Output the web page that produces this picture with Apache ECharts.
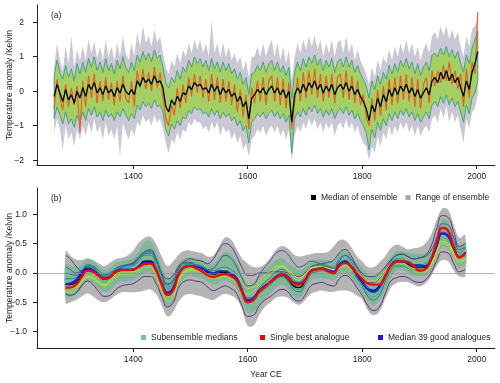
<!DOCTYPE html>
<html>
<head>
<meta charset="utf-8">
<script src="https://cdn.jsdelivr.net/npm/echarts@6/dist/echarts.min.js"></script>
<style>
html, body { margin: 0; padding: 0; background: #fff; }
#chart { width: 500px; height: 383px; }
</style>
</head>
<body>
<div id="chart"></div>
<script>
// ---- panel (a): annual reconstruction, sampled every 5 years ----
var yearsA = [
  1262,1267,1272,1277,1282,1287,1292,1297,1302,1307,
  1312,1317,1322,1327,1332,1337,1342,1347,1352,1357,
  1362,1367,1372,1377,1382,1387,1392,1397,1402,1407,
  1412,1417,1422,1427,1432,1437,1442,1447,1452,1457,
  1462,1467,1472,1477,1482,1487,1492,1497,1502,1507,
  1512,1517,1522,1527,1532,1537,1542,1547,1552,1557,
  1562,1567,1572,1577,1582,1587,1592,1597,1602,1607,
  1612,1617,1622,1627,1632,1637,1642,1647,1652,1657,
  1662,1667,1672,1677,1682,1687,1692,1697,1702,1707,
  1712,1717,1722,1727,1732,1737,1742,1747,1752,1757,
  1762,1767,1772,1777,1782,1787,1792,1797,1802,1807,
  1812,1817,1822,1827,1832,1837,1842,1847,1852,1857,
  1862,1867,1872,1877,1882,1887,1892,1897,1902,1907,
  1912,1917,1922,1927,1932,1937,1942,1947,1952,1957,
  1962,1967,1972,1977,1982,1987,1992,1997,2002
];
var medianA = [
  -0.15,0.20,-0.05,-0.30,0.05,-0.25,-0.10,-0.35,0.00,-0.20,
  0.10,-0.15,0.20,0.05,0.25,-0.05,0.10,-0.10,0.15,-0.05,
  0.05,-0.15,0.10,-0.05,0.20,0.00,-0.10,0.05,-0.10,0.30,
  0.15,0.40,0.25,0.35,0.20,0.45,0.25,0.30,0.10,-0.45,
  -0.60,-0.25,-0.40,-0.15,-0.30,-0.05,-0.10,0.15,0.05,0.25,
  0.15,0.20,0.05,0.10,-0.05,0.20,0.00,0.15,-0.10,0.10,
  -0.05,0.05,-0.15,-0.05,-0.30,-0.15,-0.45,-0.30,-0.80,-0.20,
  -0.10,0.05,-0.05,0.10,-0.10,0.05,0.15,-0.05,0.10,-0.10,
  0.05,-0.20,0.00,-0.90,-0.10,0.10,-0.05,0.20,0.00,0.25,
  0.10,0.30,0.05,0.20,-0.05,0.15,0.00,0.20,-0.10,0.10,
  0.20,0.05,0.25,0.00,0.15,-0.10,0.05,-0.15,-0.30,-0.50,
  -0.85,-0.40,-0.60,-0.20,-0.45,-0.10,-0.30,0.05,-0.15,0.10,
  -0.10,0.15,0.00,0.20,-0.05,0.10,-0.15,0.05,-0.20,-0.05,
  0.10,-0.10,0.30,0.40,0.25,0.55,0.35,0.60,0.30,0.50,
  0.25,0.40,0.10,-0.15,0.30,0.05,0.55,0.80,1.15
];
var bestA = [
  -0.50,0.35,-0.20,-0.55,0.20,-0.45,0.10,-0.40,0.15,-1.20,
  0.30,-0.45,0.45,-0.20,0.50,-0.35,0.30,-0.30,0.40,-0.25,
  0.25,-0.40,0.30,-0.30,0.45,-0.20,-0.35,0.30,-0.45,0.60,
  0.10,0.65,0.05,0.55,0.00,0.70,0.10,0.55,-0.20,-0.80,
  -1.00,-0.40,-0.70,0.10,-0.50,0.20,-0.35,0.40,-0.15,0.50,
  -0.05,0.45,-0.20,0.35,-0.30,0.50,-0.25,0.40,-0.35,0.35,
  -0.30,0.30,-0.40,0.20,-0.60,0.05,-0.75,-0.10,-1.10,0.10,
  -0.35,0.30,-0.30,0.40,-0.40,0.30,0.45,-0.30,0.40,-0.40,
  0.35,-0.50,0.25,-1.10,-0.35,0.40,-0.30,0.55,-0.20,0.60,
  -0.10,0.65,-0.20,0.50,-0.30,0.45,-0.20,0.50,-0.35,0.40,
  0.50,-0.20,0.60,-0.25,0.45,-0.35,0.30,-0.40,-0.10,-0.75,
  -1.00,-0.20,-0.85,0.05,-0.70,0.15,-0.55,0.35,-0.40,0.40,
  -0.35,0.45,-0.25,0.50,-0.30,0.40,-0.45,0.35,-0.50,0.20,
  0.40,-0.35,0.60,0.15,0.60,0.25,0.75,0.30,0.85,0.20,
  0.60,0.05,0.50,-0.45,0.65,-0.20,0.85,0.50,2.30
];
var membersHiA = [
  0.45,0.90,0.55,0.35,0.75,0.40,0.65,0.30,0.80,0.50,
  0.85,0.55,0.95,0.70,1.00,0.60,0.85,0.55,0.95,0.60,
  0.80,0.50,0.90,0.65,1.00,0.70,0.55,0.85,0.60,1.05,
  0.85,1.15,0.90,1.10,0.85,1.20,0.95,1.05,0.70,0.25,
  0.10,0.40,0.25,0.60,0.35,0.70,0.55,0.90,0.70,1.00,
  0.80,0.95,0.70,0.90,0.60,0.95,0.65,0.85,0.55,0.85,
  0.60,0.80,0.50,0.65,0.35,0.55,0.20,0.40,-0.10,0.50,
  0.55,0.75,0.60,0.85,0.55,0.80,0.90,0.60,0.85,0.55,
  0.75,0.45,0.70,-0.20,0.55,0.85,0.60,0.95,0.70,1.00,
  0.80,1.05,0.75,0.95,0.60,0.90,0.70,0.95,0.55,0.85,
  0.95,0.70,1.00,0.70,0.90,0.55,0.75,0.50,0.35,0.15,
  -0.20,0.30,0.05,0.45,0.20,0.55,0.35,0.75,0.50,0.80,
  0.55,0.90,0.70,0.95,0.65,0.85,0.50,0.80,0.45,0.70,
  0.85,0.60,1.05,1.10,1.00,1.25,1.05,1.30,1.00,1.20,
  0.95,1.15,0.80,0.55,1.05,0.80,1.25,1.50,1.75
];
var membersLoA = [
  -0.80,-0.45,-0.70,-0.95,-0.60,-0.95,-0.80,-1.05,-0.70,-0.90,
  -0.60,-0.85,-0.50,-0.70,-0.45,-0.75,-0.60,-0.85,-0.55,-0.75,
  -0.65,-0.85,-0.60,-0.75,-0.50,-0.70,-0.85,-0.65,-0.80,-0.40,
  -0.55,-0.30,-0.45,-0.35,-0.50,-0.25,-0.45,-0.40,-0.60,-1.10,
  -1.30,-0.95,-1.10,-0.85,-1.00,-0.75,-0.80,-0.55,-0.65,-0.45,
  -0.55,-0.50,-0.65,-0.60,-0.75,-0.50,-0.70,-0.55,-0.80,-0.60,
  -0.75,-0.65,-0.85,-0.75,-1.00,-0.85,-1.15,-1.00,-1.50,-0.90,
  -0.80,-0.65,-0.75,-0.60,-0.80,-0.65,-0.55,-0.75,-0.60,-0.80,
  -0.65,-0.90,-0.70,-1.80,-0.80,-0.60,-0.75,-0.50,-0.70,-0.45,
  -0.60,-0.40,-0.65,-0.50,-0.75,-0.55,-0.70,-0.50,-0.80,-0.60,
  -0.50,-0.65,-0.45,-0.70,-0.55,-0.80,-0.65,-0.85,-1.00,-1.20,
  -1.70,-1.10,-1.35,-0.90,-1.15,-0.80,-1.00,-0.65,-0.85,-0.60,
  -0.80,-0.55,-0.70,-0.50,-0.75,-0.60,-0.85,-0.65,-0.90,-0.75,
  -0.60,-0.80,-0.40,-0.30,-0.45,-0.15,-0.35,-0.10,-0.40,-0.20,
  -0.45,-0.30,-0.60,-0.90,-0.40,-0.65,-0.20,-0.05,0.30
];
var rangeHiA = [
  0.70,1.40,0.90,0.60,1.30,0.80,1.60,0.70,1.20,0.90,
  1.30,0.90,1.50,1.10,1.45,0.95,1.30,0.90,1.50,1.00,
  1.30,0.90,1.40,1.00,1.60,1.10,0.90,1.40,1.00,1.70,
  1.30,1.90,1.40,1.60,1.30,1.80,1.40,1.60,1.10,0.70,
  0.50,0.90,0.70,1.10,0.80,1.20,1.00,1.40,1.10,1.50,
  1.20,1.50,1.10,1.40,1.00,2.05,1.10,1.40,1.00,1.40,
  1.00,1.30,0.90,1.10,0.80,1.00,0.60,0.90,0.40,1.00,
  1.00,1.30,1.00,1.40,1.00,1.30,1.50,1.00,1.40,0.90,
  1.30,0.80,1.20,0.30,1.00,1.40,1.10,1.50,1.20,1.60,
  1.30,1.60,1.20,1.50,1.00,1.40,1.10,1.50,1.00,1.40,
  1.50,1.10,1.60,1.10,1.40,0.90,1.20,0.90,0.70,0.50,
  0.20,0.70,0.40,0.90,0.60,1.00,0.80,1.20,0.90,1.30,
  1.00,1.40,1.10,1.50,1.10,1.40,1.00,1.30,0.90,1.20,
  1.40,1.10,1.60,1.70,1.50,1.90,1.60,1.90,1.50,1.80,
  1.50,1.70,1.30,1.00,1.60,1.30,1.80,1.90,2.10
];
var rangeLoA = [
  -1.20,-0.80,-1.10,-1.70,-1.00,-1.40,-1.20,-1.60,-1.10,-1.40,
  -1.00,-1.30,-0.90,-1.20,-0.80,-1.20,-1.00,-1.40,-0.90,-1.30,
  -1.10,-1.40,-1.00,-1.90,-0.90,-1.20,-1.40,-1.10,-1.30,-0.90,
  -1.00,-0.70,-0.90,-0.80,-1.00,-0.70,-0.90,-0.80,-1.10,-1.50,
  -1.80,-1.40,-1.50,-1.20,-1.40,-1.10,-1.20,-0.90,-1.00,-0.80,
  -0.90,-0.90,-1.10,-1.00,-1.20,-0.90,-1.10,-0.90,-1.30,-1.00,
  -1.20,-1.10,-1.40,-1.20,-1.50,-1.30,-1.70,-1.50,-1.90,-1.40,
  -1.30,-1.10,-1.20,-1.00,-1.30,-1.10,-1.00,-1.20,-1.00,-1.30,
  -1.10,-1.40,-1.10,-2.00,-1.30,-1.00,-1.20,-0.90,-1.10,-0.80,
  -1.00,-0.80,-1.10,-0.90,-1.20,-0.90,-1.10,-0.90,-1.30,-1.00,
  -0.90,-1.10,-0.80,-1.10,-0.90,-1.20,-1.00,-1.30,-1.50,-1.60,
  -2.00,-1.60,-1.80,-1.30,-1.60,-1.20,-1.40,-1.00,-1.30,-1.00,
  -1.20,-0.90,-1.10,-0.90,-1.20,-1.00,-1.30,-1.00,-1.30,-1.10,
  -1.00,-1.20,-0.80,-0.70,-0.90,-0.50,-0.80,-0.40,-0.90,-0.60,
  -0.90,-0.70,-1.10,-1.50,-0.80,-1.10,-0.60,-0.50,-0.10
];

// ---- panel (b): smoothed curves, every 10 years ----
var yearsB = [
  1282,1290,1300,1310,1320,1330,1340,1350,1360,1370,
  1380,1390,1400,1410,1420,1430,1440,1450,1460,1470,
  1480,1490,1500,1510,1520,1530,1540,1550,1560,1570,
  1580,1590,1600,1610,1620,1630,1640,1650,1660,1670,
  1680,1690,1700,1710,1720,1730,1740,1750,1760,1770,
  1780,1790,1800,1810,1820,1830,1840,1850,1860,1870,
  1880,1890,1900,1910,1920,1930,1940,1950,1960,1970,
  1980
];
var medianB = [
  -0.20,-0.20,-0.16,-0.04,0.06,0.04,-0.05,-0.11,-0.07,0.02,
  0.05,0.05,0.05,0.12,0.20,0.20,0.05,-0.18,-0.33,-0.25,
  0.00,0.10,0.12,0.10,0.08,0.01,-0.02,0.00,0.01,-0.03,
  -0.10,-0.30,-0.46,-0.43,-0.30,-0.22,-0.16,-0.07,-0.03,-0.10,
  -0.22,-0.25,-0.14,0.03,0.06,0.08,0.04,0.00,0.14,0.20,
  0.12,-0.02,-0.14,-0.28,-0.30,-0.22,-0.06,0.12,0.20,0.20,
  0.15,0.10,0.10,0.10,0.22,0.45,0.67,0.62,0.42,0.26,
  0.35
];
var bestB = [
  -0.25,-0.25,-0.20,-0.07,0.04,0.02,-0.05,-0.10,-0.07,0.02,
  0.05,0.05,0.06,0.10,0.15,0.16,0.04,-0.20,-0.38,-0.30,
  -0.02,0.10,0.12,0.08,0.03,-0.04,-0.07,-0.04,-0.02,-0.05,
  -0.12,-0.32,-0.50,-0.46,-0.32,-0.24,-0.15,-0.08,-0.02,-0.08,
  -0.18,-0.20,-0.12,0.02,0.06,0.08,0.03,0.00,0.12,0.17,
  0.12,0.00,-0.10,-0.18,-0.20,-0.20,-0.06,0.12,0.19,0.20,
  0.19,0.12,0.04,0.06,0.22,0.52,0.77,0.72,0.44,0.27,
  0.33
];
var goodB = [
  -0.19,-0.18,-0.12,0.00,0.08,0.05,-0.04,-0.09,-0.06,0.03,
  0.06,0.06,0.06,0.12,0.18,0.18,0.05,-0.18,-0.34,-0.26,
  0.00,0.10,0.12,0.10,0.08,0.03,0.00,0.03,0.03,-0.01,
  -0.08,-0.30,-0.47,-0.43,-0.30,-0.22,-0.15,-0.06,-0.01,-0.06,
  -0.16,-0.18,-0.12,0.03,0.07,0.08,0.05,0.02,0.15,0.20,
  0.12,-0.03,-0.16,-0.28,-0.32,-0.24,-0.06,0.13,0.20,0.19,
  0.17,0.13,0.13,0.12,0.22,0.46,0.68,0.63,0.42,0.27,
  0.35
];
var rangeHiB = [
  0.37,0.30,0.23,0.22,0.25,0.22,0.16,0.12,0.18,0.24,
  0.26,0.30,0.38,0.52,0.60,0.62,0.50,0.28,0.12,0.20,
  0.32,0.38,0.38,0.36,0.34,0.28,0.30,0.45,0.60,0.58,
  0.42,0.25,0.16,0.10,0.10,0.15,0.26,0.40,0.46,0.42,
  0.32,0.28,0.30,0.32,0.34,0.34,0.36,0.45,0.56,0.56,
  0.45,0.30,0.20,0.10,0.10,0.18,0.28,0.42,0.48,0.45,
  0.40,0.42,0.44,0.50,0.65,0.90,1.10,1.08,0.82,0.60,
  0.65
];
var rangeLoB = [
  -0.52,-0.50,-0.46,-0.40,-0.35,-0.40,-0.47,-0.50,-0.45,-0.38,
  -0.33,-0.33,-0.33,-0.32,-0.30,-0.28,-0.36,-0.55,-0.74,-0.66,
  -0.48,-0.38,-0.36,-0.38,-0.40,-0.44,-0.46,-0.40,-0.36,-0.38,
  -0.44,-0.62,-0.90,-0.90,-0.72,-0.58,-0.50,-0.42,-0.40,-0.42,
  -0.50,-0.54,-0.46,-0.36,-0.32,-0.30,-0.32,-0.32,-0.30,-0.30,
  -0.32,-0.38,-0.45,-0.64,-0.72,-0.66,-0.45,-0.25,-0.17,-0.15,
  -0.16,-0.20,-0.23,-0.18,-0.06,0.12,0.22,0.20,0.04,-0.06,
  -0.05
];
// where the bundle of subensemble lines is densest
var bundleHiB = [
  0.15,0.13,0.10,0.15,0.23,0.20,0.11,0.05,0.09,0.17,
  0.20,0.23,0.26,0.38,0.52,0.55,0.38,0.10,-0.10,-0.01,
  0.17,0.25,0.27,0.25,0.23,0.17,0.15,0.26,0.36,0.32,
  0.20,-0.01,-0.20,-0.17,-0.05,0.05,0.14,0.22,0.25,0.18,
  0.10,0.05,0.10,0.19,0.23,0.23,0.21,0.21,0.33,0.37,
  0.29,0.17,0.10,-0.03,-0.07,-0.01,0.13,0.27,0.37,0.37,
  0.35,0.33,0.33,0.33,0.40,0.66,0.91,0.88,0.61,0.47,
  0.51
];
var bundleLoB = [
  -0.40,-0.41,-0.37,-0.25,-0.15,-0.18,-0.27,-0.33,-0.29,-0.19,
  -0.15,-0.14,-0.13,-0.07,0.00,0.00,-0.15,-0.39,-0.56,-0.48,
  -0.20,-0.09,-0.05,-0.07,-0.09,-0.15,-0.20,-0.17,-0.13,-0.17,
  -0.25,-0.48,-0.68,-0.66,-0.54,-0.43,-0.35,-0.25,-0.20,-0.27,
  -0.40,-0.43,-0.30,-0.13,-0.10,-0.09,-0.11,-0.13,-0.05,0.01,
  -0.07,-0.19,-0.33,-0.48,-0.55,-0.46,-0.30,-0.09,0.05,0.05,
  0.00,-0.05,-0.05,-0.05,0.03,0.25,0.45,0.41,0.23,0.09,
  0.17
];
// subensemble medians (a selection of the lines)
var sub1 = [
  0.30,0.24,0.12,0.04,0.06,0.04,-0.02,-0.08,-0.04,0.04,
  0.10,0.14,0.18,0.28,0.36,0.38,0.24,0.00,-0.10,-0.04,
  0.12,0.20,0.24,0.22,0.20,0.16,0.24,0.40,0.50,0.46,
  0.30,0.10,-0.04,-0.04,0.00,0.00,0.02,0.02,0.02,0.00,
  -0.04,-0.06,0.00,0.10,0.14,0.16,0.18,0.22,0.34,0.40,
  0.30,0.12,0.00,-0.06,-0.06,0.00,0.10,0.22,0.30,0.32,
  0.28,0.24,0.26,0.30,0.45,0.75,0.98,0.95,0.70,0.45,
  0.50
];
var sub2 = [
  -0.36,-0.38,-0.34,-0.22,-0.14,-0.20,-0.32,-0.40,-0.38,-0.28,
  -0.22,-0.20,-0.18,-0.12,-0.06,-0.06,-0.18,-0.40,-0.58,-0.50,
  -0.24,-0.14,-0.12,-0.14,-0.16,-0.24,-0.30,-0.26,-0.22,-0.26,
  -0.34,-0.56,-0.74,-0.72,-0.56,-0.46,-0.40,-0.32,-0.28,-0.32,
  -0.44,-0.48,-0.38,-0.22,-0.18,-0.16,-0.20,-0.22,-0.10,-0.04,
  -0.10,-0.24,-0.38,-0.56,-0.64,-0.58,-0.36,-0.14,-0.08,-0.06,
  -0.08,-0.14,-0.16,-0.12,0.00,0.20,0.36,0.34,0.16,0.02,
  0.06
];
var sub3 = [
  0.10,0.06,0.00,0.04,0.12,0.10,0.00,-0.04,0.00,0.08,
  0.12,0.14,0.16,0.24,0.32,0.34,0.20,-0.04,-0.20,-0.12,
  0.10,0.18,0.18,0.14,0.10,0.06,0.08,0.20,0.30,0.26,
  0.12,-0.08,-0.22,-0.20,-0.04,0.10,0.22,0.34,0.38,0.32,
  0.18,0.10,0.14,0.20,0.18,0.14,0.10,0.08,0.20,0.30,
  0.24,0.10,-0.04,-0.16,-0.16,-0.10,0.04,0.20,0.30,0.32,
  0.28,0.24,0.26,0.28,0.38,0.60,0.84,0.82,0.60,0.40,
  0.44
];
var sub4 = [
  0.00,-0.02,-0.04,0.04,0.14,0.12,0.04,-0.02,0.00,0.08,
  0.12,0.14,0.16,0.26,0.36,0.40,0.24,-0.02,-0.18,-0.12,
  0.08,0.16,0.16,0.12,0.10,0.04,0.00,0.04,0.06,0.02,
  -0.06,-0.30,-0.50,-0.48,-0.34,-0.26,-0.20,-0.10,-0.06,-0.14,
  -0.28,-0.32,-0.20,-0.02,0.02,0.04,0.02,-0.02,0.10,0.16,
  0.08,-0.08,-0.22,-0.40,-0.46,-0.38,-0.16,0.04,0.12,0.12,
  0.08,0.04,0.04,0.06,0.20,0.46,0.70,0.66,0.44,0.28,
  0.36
];
var sub5 = [
  -0.10,-0.10,-0.08,0.02,0.12,0.10,0.00,-0.06,-0.02,0.06,
  0.10,0.12,0.14,0.24,0.34,0.36,0.20,-0.06,-0.24,-0.16,
  0.06,0.14,0.16,0.14,0.12,0.06,0.04,0.08,0.10,0.06,
  -0.02,-0.24,-0.42,-0.40,-0.26,-0.16,-0.08,0.02,0.06,0.00,
  -0.12,-0.16,-0.06,0.08,0.12,0.14,0.12,0.10,0.24,0.30,
  0.20,0.04,-0.10,-0.24,-0.28,-0.20,-0.02,0.16,0.24,0.24,
  0.18,0.14,0.14,0.16,0.28,0.54,0.78,0.74,0.52,0.34,
  0.42
];
var sub6 = [
  -0.18,-0.16,-0.12,0.00,0.10,0.08,-0.02,-0.08,-0.04,0.04,
  0.08,0.10,0.12,0.20,0.30,0.30,0.12,-0.12,-0.28,-0.20,
  0.04,0.12,0.14,0.12,0.10,0.04,0.02,0.04,0.06,0.02,
  -0.06,-0.26,-0.44,-0.42,-0.30,-0.22,-0.14,-0.06,-0.02,-0.08,
  -0.20,-0.22,-0.12,0.04,0.08,0.10,0.06,0.02,0.16,0.22,
  0.14,0.00,-0.14,-0.30,-0.34,-0.26,-0.08,0.10,0.18,0.18,
  0.14,0.10,0.08,0.10,0.22,0.46,0.68,0.64,0.44,0.28,
  0.36
];
var sub7 = [
  -0.26,-0.24,-0.18,-0.06,0.04,0.02,-0.08,-0.14,-0.10,0.00,
  0.04,0.04,0.06,0.12,0.20,0.22,0.06,-0.20,-0.36,-0.28,
  -0.02,0.08,0.10,0.08,0.06,0.00,-0.04,-0.02,0.00,-0.04,
  -0.12,-0.32,-0.50,-0.48,-0.36,-0.28,-0.20,-0.12,-0.08,-0.14,
  -0.26,-0.28,-0.16,0.00,0.04,0.06,0.02,-0.02,0.10,0.16,
  0.08,-0.06,-0.20,-0.36,-0.40,-0.32,-0.12,0.06,0.14,0.14,
  0.10,0.06,0.04,0.06,0.18,0.40,0.60,0.56,0.36,0.20,
  0.28
];
var sub8 = [
  -0.30,-0.30,-0.24,-0.10,0.00,-0.02,-0.12,-0.18,-0.14,-0.04,
  0.00,0.00,0.02,0.08,0.16,0.16,0.00,-0.26,-0.44,-0.36,
  -0.08,0.04,0.06,0.06,0.04,-0.02,-0.06,-0.04,-0.04,-0.08,
  -0.16,-0.34,-0.48,-0.44,-0.30,-0.20,-0.12,-0.04,0.00,-0.06,
  -0.18,-0.22,-0.12,0.02,0.06,0.08,0.04,0.00,0.10,0.14,
  0.06,-0.06,-0.16,-0.28,-0.30,-0.24,-0.06,0.10,0.16,0.16,
  0.12,0.08,0.06,0.08,0.18,0.38,0.56,0.52,0.34,0.20,
  0.26
];
var sub9 = [
  -0.32,-0.32,-0.28,-0.16,-0.08,-0.10,-0.18,-0.22,-0.16,-0.06,
  -0.02,-0.02,-0.02,0.04,0.10,0.10,-0.06,-0.30,-0.48,-0.40,
  -0.12,0.00,0.04,0.04,0.02,-0.06,-0.10,-0.08,-0.06,-0.10,
  -0.16,-0.28,-0.36,-0.32,-0.20,-0.10,-0.02,0.06,0.10,0.04,
  -0.08,-0.12,-0.04,0.08,0.10,0.10,0.06,0.02,0.08,0.12,
  0.06,-0.02,-0.10,-0.18,-0.18,-0.12,0.00,0.12,0.16,0.14,
  0.10,0.04,0.00,0.02,0.12,0.32,0.50,0.46,0.30,0.18,
  0.24
];
var sub10 = [
  -0.24,-0.26,-0.24,-0.14,-0.06,-0.08,-0.16,-0.20,-0.12,-0.02,
  0.02,0.02,0.02,0.08,0.14,0.14,0.00,-0.22,-0.40,-0.34,
  -0.10,0.02,0.06,0.08,0.08,0.04,0.02,0.04,0.06,0.02,
  -0.04,-0.16,-0.26,-0.24,-0.14,-0.04,0.04,0.10,0.12,0.06,
  -0.04,-0.08,-0.02,0.08,0.10,0.10,0.08,0.06,0.12,0.16,
  0.10,0.02,-0.06,-0.14,-0.14,-0.08,0.04,0.16,0.20,0.18,
  0.14,0.08,0.04,0.04,0.14,0.36,0.54,0.50,0.34,0.20,
  0.26
];
var subLines = [sub1, sub2, sub3, sub4, sub5, sub6, sub7, sub8, sub9, sub10];
var subColors = ['#46327e', '#482677', '#3e4a89', '#31688e', '#26828e',
                 '#1f9e89', '#35b779', '#6ece58', '#b5de2b', '#dde318'];

var ticksA = [-2, -1, 0, 1, 2];
var ticksB = [-1, -0.5, 0, 0.5, 1];
var ticksX = [1400, 1600, 1800, 2000];

var FONT = "'Liberation Sans', Arial, sans-serif";
var INK = '#222';

function pairs(xs, ys) {
  return xs.map(function (x, i) { return [x, ys[i]]; });
}

// filled band between lo and hi, drawn once as one polygon
function band(name, xs, lo, hi, idx, fill, stroke, smooth, z, extra) {
  var s = {
    name: name,
    type: 'custom',
    xAxisIndex: idx,
    yAxisIndex: idx,
    z: z,
    silent: true,
    data: xs.map(function (x, i) { return [x, lo[i], hi[i]]; }),
    encode: { x: 0, y: [1, 2] },
    renderItem: function (params, api) {
      if (params.dataIndex !== 0) return null;
      var pts = [];
      for (var i = 0; i < xs.length; i++) pts.push(api.coord([xs[i], hi[i]]));
      for (var j = xs.length - 1; j >= 0; j--) pts.push(api.coord([xs[j], lo[j]]));
      return {
        type: 'polygon',
        shape: { points: pts, smooth: smooth },
        style: { fill: fill, stroke: stroke || null, lineWidth: stroke ? 0.9 : 0 }
      };
    }
  };
  if (extra) for (var k in extra) s[k] = extra[k];
  return s;
}

function line(name, xs, ys, idx, color, width, smooth, z, opacity) {
  return {
    name: name,
    type: 'line',
    xAxisIndex: idx,
    yAxisIndex: idx,
    data: pairs(xs, ys),
    showSymbol: false,
    symbol: 'none',
    smooth: smooth,
    z: z,
    silent: true,
    lineStyle: { color: color, width: width, opacity: opacity == null ? 1 : opacity },
    itemStyle: { color: color }
  };
}

function xAxisOf(idx, withName) {
  var a = {
    type: 'value',
    gridIndex: idx,
    min: 1232,
    max: 2032,
    axisLine: { show: true, onZero: false, lineStyle: { color: INK, width: 1 } },
    axisTick: { show: true, length: 4, customValues: ticksX, lineStyle: { color: INK } },
    axisLabel: {
      show: true, customValues: ticksX, color: INK, fontSize: 8.5, margin: 7, fontFamily: FONT,
      formatter: function (v) { return String(v); }
    },
    splitLine: { show: false }
  };
  if (withName) {
    a.name = 'Year CE';
    a.nameLocation = 'middle';
    a.nameGap = 22;
    a.nameMoveOverlap = false;
    a.nameTextStyle = { color: INK, fontSize: 8.5, fontFamily: FONT };
  }
  return a;
}

function yAxisOf(idx, min, max, ticks, fmt, margin) {
  return {
    type: 'value',
    gridIndex: idx,
    min: min,
    max: max,
    name: 'Temperature anomaly /Kelvin',
    nameLocation: 'middle',
    nameRotate: 90,
    nameGap: 23,
    nameMoveOverlap: false,
    nameTextStyle: { color: INK, fontSize: 8.5, fontFamily: FONT },
    axisLine: { show: true, lineStyle: { color: INK, width: 1 } },
    axisTick: { show: true, length: 4, customValues: ticks, lineStyle: { color: INK } },
    axisLabel: { show: true, customValues: ticks, color: INK, fontSize: 8.5, margin: margin, fontFamily: FONT, formatter: fmt },
    splitLine: { show: false }
  };
}

function minus(s) { return s.replace('-', '\u2212'); }

var series = [];
// panel (a)
series.push(band('Range of ensemble', yearsA, rangeLoA, rangeHiA, 0, '#c9c8d4', null, 0, 1));
series.push(band('Ensemble members', yearsA, membersLoA, membersHiA, 0, '#a3cf63', '#3f9a8e', 0, 2));
series.push(line('Single best analogue', yearsA, bestA, 0, '#ef5a1c', 1.1, false, 3));
series.push(line('Median of ensemble', yearsA, medianA, 0, '#000000', 1.3, false, 4));
// panel (b)
series.push(band('Range of ensemble', yearsB, rangeLoB, rangeHiB, 1, '#b4b4b4', null, 0.4, 1, {
  markLine: {
    silent: true,
    symbol: 'none',
    label: { show: false },
    lineStyle: { color: '#8c8c8c', width: 0.6, type: 'solid' },
    data: [{ yAxis: 0 }]
  }
}));
series.push(band('Subensemble spread', yearsB, bundleLoB, bundleHiB, 1, 'rgba(100,185,140,0.65)', null, 0.4, 1.5));
subLines.forEach(function (ys, i) {
  series.push(line('Subensemble medians', yearsB, ys, 1, subColors[i], 1, true, 2, 0.9));
});
series.push(line('Median of ensemble', yearsB, medianB, 1, '#000000', 1.3, true, 3));
series.push(line('Median 39 good analogues', yearsB, goodB, 1, '#1c1ce0', 2, true, 4));
series.push(line('Single best analogue', yearsB, bestB, 1, '#ff0000', 2.2, true, 5));

function legendAt(left, top, names, colors) {
  return {
    left: left,
    top: top,
    padding: 0,
    itemGap: 8,
    itemWidth: 5,
    itemHeight: 5,
    icon: 'rect',
    selectedMode: false,
    textStyle: { color: INK, fontSize: 8.5, fontFamily: FONT, padding: [0, 0, 0, 0] },
    data: names.map(function (n, i) {
      return { name: n, itemStyle: { color: colors[i] }, lineStyle: { opacity: 0 } };
    })
  };
}

var chart = echarts.init(document.getElementById('chart'), null, { renderer: 'canvas' });
chart.setOption({
  animation: false,
  backgroundColor: '#ffffff',
  textStyle: { fontFamily: FONT },
  title: [
    { text: '(a)', left: 51, top: 11, padding: 0, textStyle: { color: INK, fontSize: 8.5, fontWeight: 'normal', fontFamily: FONT } },
    { text: '(b)', left: 51, top: 194, padding: 0, textStyle: { color: INK, fontSize: 8.5, fontWeight: 'normal', fontFamily: FONT } }
  ],
  legend: [
    legendAt(311, 193, ['Median of ensemble', 'Range of ensemble'], ['#000000', '#aaaaaa']),
    legendAt(141, 333, ['Subensemble medians'], ['#7dbcae']),
    legendAt(260, 333, ['Single best analogue'], ['#ff0000']),
    legendAt(378, 333, ['Median 39 good analogues'], ['#1c1ce0'])
  ],
  grid: [
    { left: 37, top: 5, width: 458, height: 160, outerBoundsMode: 'none' },
    { left: 37, top: 188, width: 458, height: 160, outerBoundsMode: 'none' }
  ],
  xAxis: [xAxisOf(0, false), xAxisOf(1, true)],
  yAxis: [
    yAxisOf(0, -2.14, 2.5, ticksA, function (v) { return minus(String(v)); }, 13),
    yAxisOf(1, -1.28, 1.45, ticksB, function (v) { return minus(v.toFixed(1)); }, 10)
  ],
  series: series
});
</script>
</body>
</html>
